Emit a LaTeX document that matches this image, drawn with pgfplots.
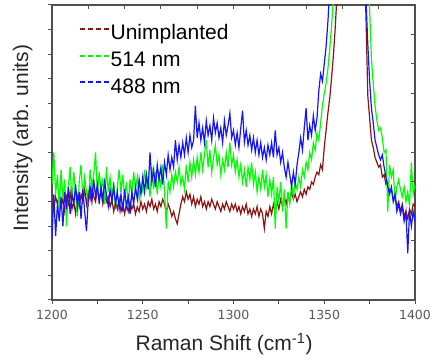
\documentclass[border=0pt]{standalone}
\usepackage{pgfplots}
\usepackage{pgfplotstable}
\pgfplotsset{compat=1.18}
\usepackage{fontspec}
\setmainfont{Liberation Sans}
\newfontfamily\tickfont{DejaVu Sans}
\definecolor{ramanbrown}{RGB}{140,20,20}
\definecolor{ramangreen}{RGB}{0,255,0}
\definecolor{ramanblue}{RGB}{20,20,255}
\definecolor{axisgray}{RGB}{80,80,80}
\pgfplotstableread{
x u g b
1200 4.0 4.7 2.5
1201 3.7 6.0 4.3
1202 4.2 4.3 2.6
1203 3.9 5.1 3.9
1204 4.3 3.6 3.2
1205 3.8 5.3 4.2
1206 4.1 4.1 3.0
1207 3.6 4.9 4.4
1208 4.2 3.0 3.7
1209 3.9 4.6 4.6
1210 4.4 5.4 3.5
1211 3.7 4.0 4.3
1212 4.0 5.2 3.9
1213 3.5 4.4 4.7
1214 4.2 3.4 3.8
1215 3.8 4.8 4.4
1216 4.3 5.5 3.3
1217 4.0 4.2 4.5
1218 4.5 5.0 3.6
1219 3.9 4.4 2.8
1220 4.4 3.8 4.1
1221 4.1 5.3 4.6
1222 4.6 4.6 4.0
1223 4.2 5.1 4.9
1224 4.0 6.0 4.2
1225 4.5 4.3 4.7
1226 4.1 5.2 3.9
1227 4.4 4.5 4.6
1228 3.9 4.9 4.1
1229 4.3 3.9 4.8
1230 4.0 5.4 4.3
1231 4.2 4.4 3.8
1232 3.8 5.0 4.5
1233 4.1 4.2 4.0
1234 3.6 4.8 4.6
1235 4.0 3.7 3.9
1236 3.7 4.6 4.4
1237 4.1 5.3 3.7
1238 3.6 4.4 4.3
1239 3.9 5.1 3.6
1240 3.5 4.2 4.5
1241 3.9 4.8 3.8
1242 3.6 3.8 4.2
1243 4.0 4.9 3.5
1244 3.7 4.3 4.4
1245 3.9 5.2 3.9
1246 3.5 4.5 4.6
1247 3.8 5.0 4.1
1248 3.6 4.1 4.9
1249 4.0 4.7 4.3
1250 3.7 4.4 5.0
1251 3.9 5.3 4.4
1252 3.6 4.6 5.1
1253 4.0 5.0 4.5
1254 3.8 4.2 6.0
1255 4.1 5.4 4.8
1256 3.7 4.5 5.3
1257 3.9 5.2 4.6
1258 3.6 4.3 5.5
1259 4.0 5.1 4.9
1260 3.8 4.6 5.4
1261 4.1 5.5 4.7
1262 3.9 4.4 5.6
1263 3.6 2.9 5.1
1264 3.9 4.8 5.9
1265 3.7 4.4 5.3
1266 3.4 5.1 5.8
1267 3.6 4.6 5.4
1268 3.3 5.2 6.5
1269 3.1 4.8 5.7
1270 3.5 5.4 6.3
1271 3.9 4.7 5.8
1272 4.2 5.0 6.4
1273 4.0 4.5 5.9
1274 4.4 5.5 6.6
1275 4.1 4.8 6.0
1276 4.3 5.6 6.7
1277 3.9 5.0 6.2
1278 4.2 5.7 6.5
1279 3.8 5.1 7.9
1280 4.1 5.8 6.6
1281 3.9 5.2 7.2
1282 4.2 6.0 6.5
1283 3.8 5.3 7.0
1284 4.0 5.9 6.4
1285 3.7 6.5 7.3
1286 4.0 5.4 6.7
1287 3.8 6.1 7.1
1288 4.1 5.2 6.5
1289 3.9 5.8 7.4
1290 3.7 6.3 6.8
1291 4.0 5.5 7.2
1292 3.8 5.9 6.6
1293 3.6 5.1 7.0
1294 3.9 5.7 6.4
1295 3.7 5.3 7.3
1296 4.0 6.0 6.7
1297 3.8 5.4 7.1
1298 3.6 6.4 7.6
1299 3.9 5.5 6.6
1300 3.7 5.9 6.9
1301 3.9 5.2 6.3
1302 3.6 5.7 6.8
1303 3.8 5.0 6.2
1304 3.5 5.5 7.0
1305 3.8 4.8 7.7
1306 3.6 5.3 6.4
1307 3.9 4.6 6.9
1308 3.5 5.4 6.3
1309 3.7 4.9 6.7
1310 3.4 5.6 6.1
1311 3.7 4.7 6.6
1312 3.5 5.2 6.0
1313 3.8 4.4 6.5
1314 3.4 5.0 5.9
1315 3.7 4.5 6.4
1316 3.5 5.3 5.8
1317 2.9 4.6 6.2
1318 3.6 5.1 5.7
1319 3.4 4.2 6.3
1320 3.8 4.9 5.9
1321 3.5 4.3 6.4
1322 3.9 5.0 5.8
1323 3.6 2.9 6.9
1324 4.0 4.6 5.9
1325 3.7 4.0 6.2
1326 4.1 4.8 5.6
1327 3.8 3.6 6.0
1328 4.2 4.5 5.4
1329 3.9 2.9 5.0
1330 4.3 4.4 5.6
1331 4.0 3.9 5.1
1332 4.4 4.7 4.6
1333 4.1 4.2 5.2
1334 4.3 4.8 4.7
1335 4.0 4.5 5.5
1336 4.2 5.0 6.0
1337 4.4 4.6 6.6
1338 4.2 5.3 6.1
1339 4.5 5.0 7.0
1340 4.3 5.6 7.8
1341 4.6 5.3 6.5
1342 4.5 6.0 7.1
1343 4.8 5.7 6.7
1344 4.7 6.4 7.5
1345 5.0 6.1 6.9
1346 5.2 6.8 7.4
1347 5.1 6.5 8.5
1348 5.5 7.2 9.2
1349 5.3 7.9 8.9
1350 6.2 8.4 9.6
1351 6.9 8.8 10.3
1352 7.6 9.4 11.3
1353 8.2 10.2 12.6
1354 9.0 11.1 14.5
1355 9.9 12.2 17.0
1356 11.0 13.8 19.0
1357 12.4 16.0 21.0
1358 14.0 18.0 22.0
1359 16.0 20.0 23.0
1360 18.0 21.0 23.5
1361 19.5 22.0 24.0
1362 21.0 23.0 24.5
1363 22.0 24.0 25.0
1364 22.5 24.5 25.0
1365 22.5 24.5 24.5
1366 22.0 24.0 24.0
1367 21.0 23.5 23.0
1368 20.0 23.0 21.5
1369 19.0 22.5 20.0
1370 17.5 22.0 18.5
1371 16.0 21.0 17.0
1372 14.0 19.0 15.0
1373 11.5 16.0 12.2
1374 8.3 13.5 10.4
1375 7.4 11.8 8.9
1376 6.5 9.8 7.8
1377 6.2 8.8 7.2
1378 5.8 7.9 6.5
1379 5.6 7.3 6.2
1380 5.4 6.9 5.9
1381 5.5 7.0 5.7
1382 5.0 6.6 5.9
1383 5.1 6.0 5.4
1384 4.7 6.1 5.0
1385 4.8 3.6 4.6
1386 4.4 5.5 4.3
1387 4.5 5.0 4.6
1388 4.1 5.3 4.0
1389 4.2 4.0 4.3
1390 3.8 4.6 3.6
1391 4.0 4.9 3.9
1392 3.6 4.5 3.5
1393 3.9 4.2 3.8
1394 3.4 4.6 3.2
1395 3.6 4.0 3.6
1396 3.3 4.4 1.9
1397 3.7 3.8 3.6
1398 3.5 5.6 3.0
1399 3.9 4.3 3.6
1400 3.8 4.7 3.2
}\spectra
\begin{document}
\begin{tikzpicture}
\path[use as bounding box] (-52pt,-63pt) rectangle (378pt,300pt);
\begin{axis}[
  at={(0pt,0pt)}, anchor=south west,
  scale only axis, width=363pt, height=295pt,
  xmin=1200, xmax=1400, ymin=0, ymax=12,
  xtick={1200,1250,...,1400},
  minor xtick={1225,1275,1325,1375},
  ytick={0,1,...,12}, yticklabels={},
  xtick pos=bottom, ytick pos=left,
  tick align=outside,
  major tick length=4pt, minor tick length=4pt,
  axis line style={draw=axisgray, line width=1.4pt},
  every tick/.style={draw=axisgray, line width=1pt},
  /pgf/number format/assume math mode=true,
  /pgf/number format/1000 sep={},
  xticklabel style={font=\tickfont\fontsize{12.5}{14}\selectfont, text=black!65, yshift=-3pt},
  xlabel={Raman Shift (cm\textsuperscript{-1})},
  xlabel style={font=\fontsize{21}{24}\selectfont, text=black!85, at={(axis description cs:0.474,-0.149)}, anchor=center},
  ylabel={Intensity (arb. units)},
  ylabel style={font=\fontsize{21}{24}\selectfont, text=black!85, at={(axis description cs:-0.081,0.549)}, anchor=center},
  legend cell align=left,
  legend style={at={(axis description cs:0.066,0.945)}, anchor=north west, draw=none, fill=none,
    font=\fontsize{21}{24}\selectfont, row sep=5.6pt, column sep=0pt,
    nodes={inner sep=0.5pt, text height=16pt, text depth=4pt}},
  legend image code/.code={\draw[#1, line width=2pt] (0pt,5pt) -- (5pt,5pt) (8pt,5pt) -- (13pt,5pt) (16pt,5pt) -- (21pt,5pt) (24pt,5pt) -- (29pt,5pt);},
  clip=true,
]
\addplot[color=ramanbrown, line width=1.2pt] table[x=x, y=u] {\spectra};
\addlegendentry{Unimplanted}
\addplot[color=ramangreen, line width=1.2pt] table[x=x, y=g] {\spectra};
\addlegendentry{514 nm}
\addplot[color=ramanblue, line width=1.2pt] table[x=x, y=b] {\spectra};
\addlegendentry{488 nm}
\end{axis}
\begin{axis}[
  at={(0pt,0pt)}, anchor=south west,
  scale only axis, width=363pt, height=295pt,
  xmin=1200, xmax=1400, ymin=0, ymax=12,
  xtick={1220,1240,...,1380}, xticklabels={},
  ytick={1.2,2.4,...,10.8}, yticklabels={},
  xtick pos=top, ytick pos=right,
  tick align=inside,
  major tick length=4pt,
  axis line style={draw=none},
  every tick/.style={draw=axisgray, line width=1pt},
]
\end{axis}
\end{tikzpicture}
\end{document}
